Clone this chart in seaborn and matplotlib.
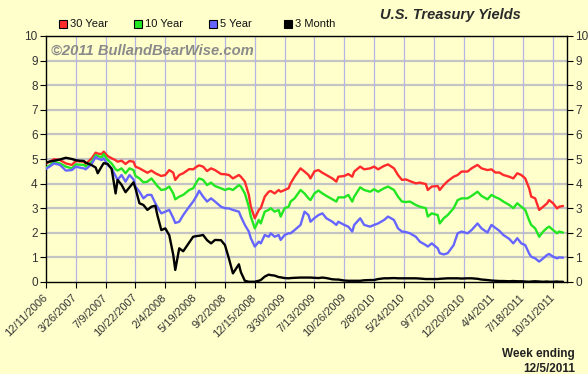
import matplotlib
matplotlib.use("Agg")
import matplotlib.pyplot as plt
from matplotlib.patches import Rectangle
import pandas as pd
import seaborn as sns

# weeks since 12/11/2006
weeks = [0, 2, 4, 7, 10, 13, 15, 17, 19, 20, 23, 25, 26, 28, 29, 31, 33, 35, 36, 38,
         40, 42, 44, 45, 47, 49, 51, 53, 55, 56, 58, 60, 62, 64, 65, 67, 69, 72, 74, 76,
         77, 79, 81, 83, 85, 88, 90, 92,
         94, 97, 98, 100, 102, 103, 105, 107, 108, 110, 112, 113, 115, 117, 118, 120,
         122, 123, 125, 128, 130, 132, 133, 135, 137,
         139, 141, 144, 146, 147, 150, 152, 154, 155, 158, 160, 163, 165, 167, 170, 172,
         175, 177, 179, 181,
         183, 186, 188, 191, 192, 194, 197, 198, 200, 202, 205, 207, 209, 212, 214, 217,
         219, 222, 224,
         226, 228, 230, 233, 235, 237, 239, 241, 243, 244, 246, 248, 250, 252, 253, 255,
         257, 258, 260]

yield_30y = [4.82, 4.9, 4.99, 4.96, 4.82, 4.76, 4.92, 4.9, 4.89, 4.8, 5.03, 5.26, 5.22, 5.2, 5.3,
             5.12, 5.03, 4.95, 4.89, 4.93, 4.8, 4.92, 4.89, 4.69, 4.62, 4.53, 4.44, 4.53, 4.42, 4.38,
             4.31, 4.35, 4.55, 4.44, 4.15, 4.35, 4.42, 4.59, 4.58, 4.7, 4.74, 4.69, 4.51, 4.62, 4.55,
             4.39, 4.38, 4.35,
             4.21, 4.35, 4.28, 4.08, 3.54, 3.06, 2.59, 2.93, 3.0, 3.47, 3.67, 3.7, 3.6, 3.74, 3.67,
             3.74, 3.81, 4.01, 4.28, 4.62, 4.49, 4.35, 4.21, 4.5, 4.55,
             4.44, 4.35, 4.21, 4.08, 4.28, 4.31, 4.39, 4.28, 4.49, 4.69, 4.58, 4.62, 4.69, 4.58, 4.72,
             4.78, 4.62, 4.35, 4.15, 4.17,
             4.1, 4.01, 4.04, 3.98, 3.74, 3.88, 3.9, 3.74, 3.94, 4.1, 4.28, 4.35, 4.49, 4.49, 4.62,
             4.76, 4.62, 4.55, 4.58,
             4.45, 4.45, 4.35, 4.28, 4.21, 4.42, 4.35, 4.21, 3.8, 3.47, 3.4, 2.93, 3.06, 3.2, 3.33,
             3.2, 2.99, 3.06, 3.09]

yield_10y = [4.65, 4.75, 4.89, 4.82, 4.69, 4.62, 4.78, 4.77, 4.76, 4.69, 4.89, 5.16, 5.12, 5.07, 5.2,
             4.96, 4.82, 4.58, 4.53, 4.62, 4.42, 4.62, 4.55, 4.31, 4.21, 4.05, 4.08, 4.21, 4.01, 3.9,
             3.74, 3.77, 3.88, 3.6, 3.36, 3.47, 3.54, 3.74, 3.81, 4.1, 4.21, 4.15, 3.94, 4.04, 3.9,
             3.81, 3.74, 3.8,
             3.74, 3.94, 3.88, 3.6, 3.06, 2.66, 2.18, 2.52, 2.38, 2.86, 2.93, 3.0, 2.86, 2.93, 2.66,
             3.0, 3.06, 3.27, 3.4, 3.74, 3.6, 3.4, 3.33, 3.6, 3.72,
             3.6, 3.5, 3.36, 3.27, 3.44, 3.44, 3.54, 3.27, 3.47, 3.85, 3.74, 3.67, 3.77, 3.67, 3.81,
             3.88, 3.74, 3.47, 3.27, 3.25,
             3.27, 3.13, 3.06, 3.0, 2.66, 2.79, 2.72, 2.38, 2.59, 2.72, 3.0, 3.33, 3.4, 3.4, 3.5,
             3.67, 3.5, 3.36, 3.54,
             3.45, 3.38, 3.27, 3.13, 3.0, 3.2, 3.06, 2.93, 2.5, 2.32, 2.18, 1.84, 2.05, 2.2, 2.25,
             2.11, 1.98, 2.05, 2.01]

yield_5y = [4.6, 4.7, 4.82, 4.76, 4.53, 4.55, 4.69, 4.65, 4.62, 4.58, 4.8, 5.09, 5.02, 4.96, 5.03,
            4.76, 4.62, 4.3, 4.15, 4.35, 4.08, 4.35, 4.17, 3.88, 3.67, 3.4, 3.54, 3.54, 3.2, 3.05,
            2.79, 2.86, 2.93, 2.6, 2.4, 2.45, 2.72, 3.06, 3.27, 3.54, 3.71, 3.47, 3.27, 3.4, 3.27,
            3.06, 3.0, 2.99,
            2.93, 2.86, 2.66, 2.32, 2.05, 1.78, 1.44, 1.64, 1.57, 1.91, 1.84, 1.98, 1.84, 1.91, 1.71,
            1.91, 1.98, 1.98, 2.11, 2.32, 2.86, 2.72, 2.45, 2.6, 2.72,
            2.79, 2.59, 2.45, 2.32, 2.45, 2.32, 2.25, 2.05, 2.32, 2.59, 2.32, 2.25, 2.32, 2.38, 2.52,
            2.66, 2.52, 2.18, 2.05, 2.03,
            1.98, 1.84, 1.64, 1.5, 1.44, 1.57, 1.37, 1.17, 1.12, 1.17, 1.5, 1.98, 2.05, 1.98, 2.11,
            2.38, 2.18, 2.01, 2.32,
            2.2, 2.08, 1.91, 1.75, 1.57, 1.78, 1.57, 1.5, 1.15, 1.03, 0.96, 0.83, 0.96, 1.1, 1.14,
            1.03, 0.96, 1.0, 0.99]

yield_3m = [4.85, 4.9, 4.93, 4.98, 5.05, 5.0, 4.95, 4.93, 4.92, 4.85, 4.75, 4.65, 4.42, 4.7, 4.83,
            4.8, 4.6, 3.6, 4.15, 3.95, 3.65, 3.85, 4.05, 3.8, 3.2, 3.13, 2.93, 3.06, 3.1, 2.72,
            2.11, 2.18, 1.9, 1.1, 0.49, 1.37, 1.25, 1.6, 1.84, 1.87, 1.88, 1.91, 1.7, 1.57, 1.71,
            1.7, 1.5, 0.95,
            0.35, 0.72, 0.4, 0.05, 0.01, 0.01, 0.01, 0.05, 0.08, 0.22, 0.3, 0.28, 0.26, 0.2, 0.19,
            0.16, 0.15, 0.16, 0.17, 0.18, 0.18, 0.18, 0.18, 0.17, 0.16,
            0.18, 0.16, 0.11, 0.1, 0.1, 0.06, 0.05, 0.05, 0.05, 0.05, 0.07, 0.08, 0.08, 0.12, 0.15,
            0.15, 0.16, 0.15, 0.15, 0.15,
            0.15, 0.15, 0.14, 0.12, 0.12, 0.12, 0.12, 0.13, 0.14, 0.15, 0.15, 0.15, 0.14, 0.15, 0.15,
            0.13, 0.1, 0.08, 0.06,
            0.05, 0.04, 0.04, 0.03, 0.04, 0.03, 0.03, 0.02, 0.01, 0.02, 0.03, 0.02, 0.01, 0.02, 0.01,
            0.01, 0.02, 0.01, 0.01]

series_names = ["30 Year", "10 Year", "5 Year", "3 Month"]
series_colors = ["#ff2b2b", "#22e622", "#6666ff", "#000000"]

tick_weeks = list(range(0, 256, 15))
tick_labels = ["12/11/2006", "3/26/2007", "7/9/2007", "10/22/2007", "2/4/2008", "5/19/2008",
               "9/2/2008", "12/15/2008", "3/30/2009", "7/13/2009", "10/26/2009", "2/8/2010",
               "5/24/2010", "9/7/2010", "12/20/2010", "4/4/2011", "7/18/2011", "10/31/2011"]

df = pd.concat([
    pd.DataFrame({"week": weeks, "yield": vals, "series": name})
    for name, vals in zip(series_names, [yield_30y, yield_10y, yield_5y, yield_3m])
])

bg = "#ffffcc"
sns.set_theme(style="white")
plt.rcParams["font.family"] = ["Liberation Sans", "DejaVu Sans"]

fig = plt.figure(figsize=(5.88, 3.74), dpi=100, facecolor=bg)
ax = fig.add_axes([46 / 588, 1 - 282 / 374, (567 - 46) / 588, (282 - 36) / 374])
ax.set_facecolor(bg)

# grid
for v in range(1, 11):
    ax.axhline(v, color="#c4c4c4", lw=1.6, zorder=0)
for t in tick_weeks[1:]:
    ax.axvline(t, color="#b4b4e6", lw=0.9, zorder=0)

sns.lineplot(data=df, x="week", y="yield", hue="series", hue_order=series_names,
             palette=series_colors, linewidth=1.7, errorbar=None, legend=False, ax=ax, zorder=3)

ax.set_xlim(0, 262)
ax.set_ylim(0, 10)
ax.set_xlabel("")
ax.set_ylabel("")
ax.set_xticks(tick_weeks)
ax.set_xticklabels(tick_labels, rotation=45, ha="right", va="center", rotation_mode="anchor",
                   fontsize=8, color="#333333")
ax.set_yticks(range(0, 11))
ax.tick_params(axis="y", which="both", left=True, right=True, labelleft=True, labelright=True,
               length=4, width=0.8, color="black", labelsize=8.5, labelcolor="#333333", pad=2)
ax.tick_params(axis="x", bottom=True, length=4, width=0.8, color="black", pad=6)
for s in ax.spines.values():
    s.set_color("black")
    s.set_linewidth(1.0)

# watermark
fig.text(51 / 588, 1 - 55 / 374, "\u00a92011 BullandBearWise.com", fontsize=10.6,
         fontweight="bold", fontstyle="italic", color="#8a8a8a", ha="left", va="baseline")

# title
fig.text(450 / 588, 1 - 19 / 374, "U.S. Treasury Yields", fontsize=10.5, fontweight="bold",
         fontstyle="italic", color="#2a2a2a", ha="center", va="baseline")

# legend
for i, (name, col) in enumerate(zip(series_names, series_colors)):
    x0 = 59 + 75 * i
    fig.add_artist(Rectangle((x0 / 588, 1 - 28 / 374), 8 / 588, 8 / 374, transform=fig.transFigure,
                             facecolor=col, edgecolor="black", lw=0.8))
    fig.text((x0 + 11) / 588, 1 - 24 / 374, name, fontsize=8, color="#111111",
             ha="left", va="center")

fig.text(575 / 588, 1 - 357 / 374, "Week ending", fontsize=8.5, fontweight="bold",
         color="#222222", ha="right", va="baseline")
fig.text(575 / 588, 1 - 372 / 374, "12/5/2011", fontsize=8.5, fontweight="bold",
         color="#222222", ha="right", va="baseline")

fig.savefig("out.png", dpi=100, facecolor=bg)
